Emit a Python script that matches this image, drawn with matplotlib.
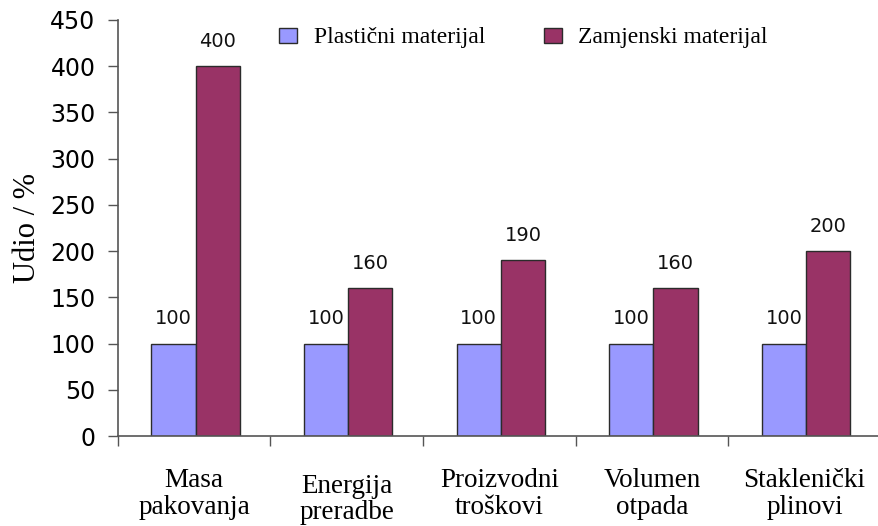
import matplotlib
matplotlib.use("Agg")
import matplotlib.pyplot as plt
import numpy as np

categories = ["Masa\npakovanja", "Energija\npreradbe", "Proizvodni\ntroškovi",
              "Volumen\notpada", "Staklenički\nplinovi"]
plasticni = [100, 100, 100, 100, 100]
zamjenski = [400, 160, 190, 160, 200]
series_names = ["Plastični materijal", "Zamjenski materijal"]

serif = ["Liberation Serif", "DejaVu Serif"]
edge = "#2b2b2b"
axis_col = "#555555"

fig = plt.figure(figsize=(8.79, 5.26), dpi=100)
ax = fig.add_axes([0.134, 0.171, 0.868, 0.791])

x = np.arange(len(categories))
w = 0.29
b1 = ax.bar(x - w / 2 + 0.01, plasticni, w, color="#9999FF", edgecolor=edge,
            linewidth=1, label=series_names[0])
b2 = ax.bar(x + w / 2 + 0.01, zamjenski, w, color="#993366", edgecolor=edge,
            linewidth=1, label=series_names[1])

for bars in (b1, b2):
    for r in bars:
        ax.annotate(f"{r.get_height():.0f}", (r.get_x() + r.get_width() / 2, r.get_height()),
                    xytext=(0, 11), textcoords="offset points", ha="center", va="bottom",
                    fontsize=14, color="#111111")

ax.set_xlim(-0.5, len(categories) - 0.5)
ax.set_ylim(0, 450)
ax.set_yticks(np.arange(0, 451, 50))
ax.tick_params(axis="y", labelsize=17, length=7, width=1, color=axis_col, pad=9)

# category boundaries as ticks, labels drawn as text below
ax.set_xticks(np.arange(-0.5, len(categories) + 0.5, 1))
ax.set_xticklabels([])
ax.tick_params(axis="x", length=7, width=1, color=axis_col, direction="out")

offsets = [0, -4, 0, 0, 0]
for i, (c, off) in enumerate(zip(categories, offsets)):
    ax.annotate(c, (i, 0), xycoords=("data", "axes fraction"), xytext=(0, -23 + off),
                textcoords="offset points", ha="center", va="top", fontsize=19.5,
                family=serif, linespacing=1.1)

for s in ["top", "right"]:
    ax.spines[s].set_visible(False)
for s in ["left", "bottom"]:
    ax.spines[s].set_color(axis_col)
    ax.spines[s].set_linewidth(1.2)

ax.set_ylabel("Udio / %", fontsize=22, family=serif, labelpad=6)

ax.legend(loc="center", bbox_to_anchor=(0.532, 0.957), ncol=2, frameon=False,
          prop={"family": serif, "size": 17}, handlelength=0.75, handleheight=0.6,
          columnspacing=2.5, handletextpad=0.7)

fig.savefig("out.png", dpi=100)
